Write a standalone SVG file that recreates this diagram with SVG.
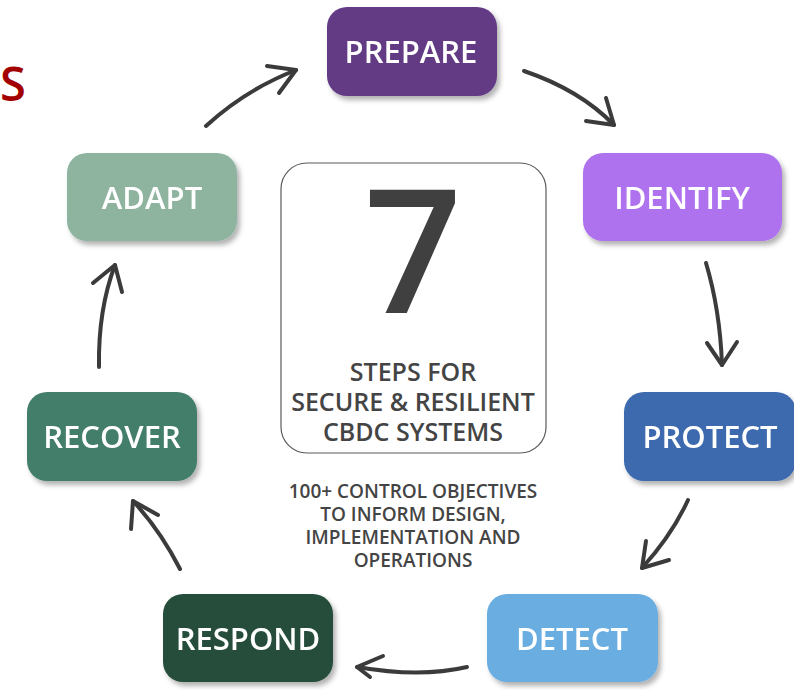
<svg xmlns="http://www.w3.org/2000/svg" width="794" height="690" viewBox="0 0 794 690">
  <defs>
    <filter id="shadow" x="-20%" y="-20%" width="140%" height="150%">
      <feDropShadow dx="3" dy="4" stdDeviation="2.5" flood-color="#000" flood-opacity="0.3"/>
    </filter>
  </defs>
  <style>
    .step { filter: url(#shadow); }
    .label { font-family: "Open Sans", "Noto Sans", sans-serif; font-size: 31px; font-weight: 600; fill: #ffffff; text-anchor: middle; }
    .arrow { fill: none; stroke: #3b3b3b; stroke-width: 4; stroke-linecap: round; stroke-linejoin: round; }
    .centre { font-family: "Open Sans", "Noto Sans", sans-serif; font-weight: 600; fill: #444444; text-anchor: middle; }
    .big { font-size: 172px; fill: #404040; }
    .head { font-size: 25px; }
    .note { font-size: 19px; }
  </style>
  <rect width="794" height="690" fill="#ffffff"/>

  <!-- title fragment at the left edge -->
  <text x="0" y="101" font-family="Open Sans, Noto Sans, sans-serif" font-size="47" font-weight="600" fill="#a30000">S</text>

  <!-- centre panel -->
  <g id="centre">
    <rect x="281" y="163" width="265" height="290" rx="26" fill="#ffffff" stroke="#5a5a5a" stroke-width="1.2"/>
    <text class="centre big" x="413" y="313">7</text>
    <text class="centre head" x="413" y="381">STEPS FOR</text>
    <text class="centre head" x="413" y="411">SECURE &amp; RESILIENT</text>
    <text class="centre head" x="413" y="441">CBDC SYSTEMS</text>
  </g>
  <g id="objectives">
    <text class="centre note" x="413" y="498">100+ CONTROL OBJECTIVES</text>
    <text class="centre note" x="413" y="521">TO INFORM DESIGN,</text>
    <text class="centre note" x="413" y="544">IMPLEMENTATION AND</text>
    <text class="centre note" x="413" y="567">OPERATIONS</text>
  </g>

  <!-- steps -->
  <g id="prepare" class="step">
    <rect x="327" y="7" width="170" height="89" rx="20" fill="#643b85"/>
    <text class="label" x="411" y="63">PREPARE</text>
  </g>
  <g id="identify" class="step">
    <rect x="583" y="153" width="199" height="88" rx="20" fill="#ae72ef"/>
    <text class="label" x="682" y="209">IDENTIFY</text>
  </g>
  <g id="protect" class="step">
    <rect x="624" y="392" width="172" height="89" rx="20" fill="#3c6aae"/>
    <text class="label" x="710" y="448">PROTECT</text>
  </g>
  <g id="detect" class="step">
    <rect x="487" y="594" width="171" height="88" rx="20" fill="#6aade1"/>
    <text class="label" x="572" y="650">DETECT</text>
  </g>
  <g id="respond" class="step">
    <rect x="163" y="594" width="170" height="88" rx="20" fill="#264e3b"/>
    <text class="label" x="248" y="650">RESPOND</text>
  </g>
  <g id="recover" class="step">
    <rect x="27" y="392" width="170" height="89" rx="20" fill="#437e6a"/>
    <text class="label" x="112" y="448">RECOVER</text>
  </g>
  <g id="adapt" class="step">
    <rect x="67" y="153" width="170" height="88" rx="20" fill="#8eb4a0"/>
    <text class="label" x="152" y="209">ADAPT</text>
  </g>

  <!-- connectors -->
  <g id="connectors" class="arrow">
    <path d="M206,126 Q245,90 296,70"/>
    <path d="M267,66 L296,70 L279,93"/>

    <path d="M524,71 Q580,90 614,125"/>
    <path d="M606,98 L614,125 L586,121"/>

    <path d="M706,263 Q720,310 722,365"/>
    <path d="M707,343 L722,365 L737,342"/>

    <path d="M688,500 Q672,535 642,568"/>
    <path d="M646,541 L642,568 L669,560"/>

    <path d="M467,667 Q420,678 357,667"/>
    <path d="M383,656 L357,667 L370,677"/>

    <path d="M180,569 Q160,530 133,501"/>
    <path d="M131,529 L133,501 L158,515"/>

    <path d="M99,367 Q98,310 115,265"/>
    <path d="M93,283 L115,265 L122,292"/>
  </g>
</svg>
